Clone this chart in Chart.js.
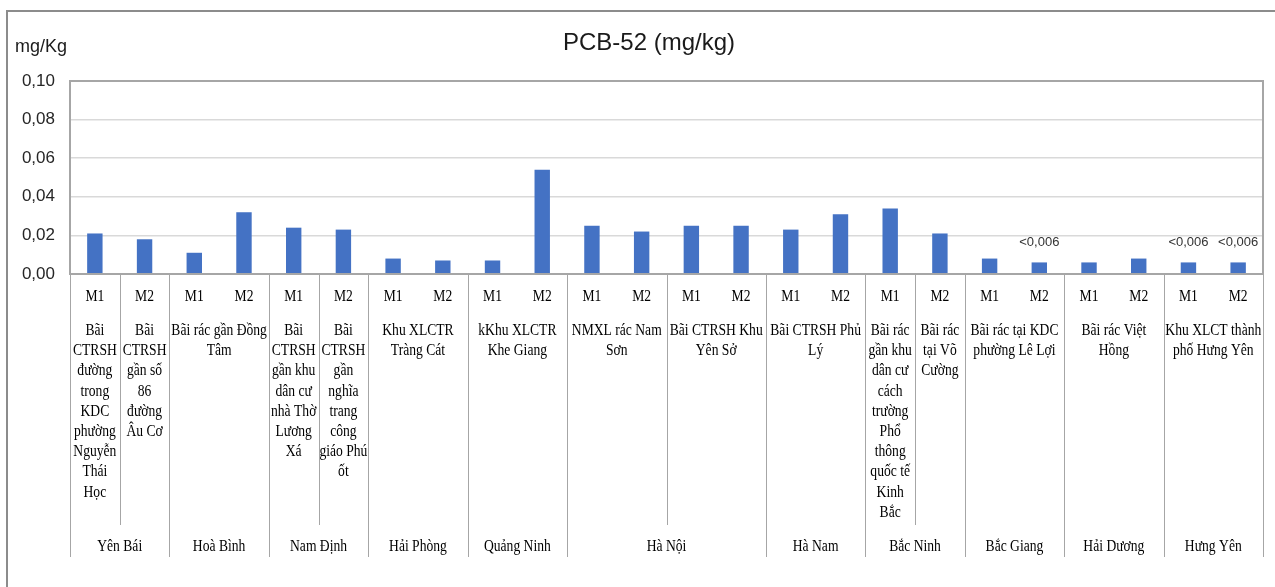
<!DOCTYPE html>
<html lang="vi">
<head>
<meta charset="utf-8">
<title>PCB-52 (mg/kg)</title>
<script src="https://cdn.jsdelivr.net/npm/chart.js@4.4.0/dist/chart.umd.min.js"></script>
<style>
  html, body { margin: 0; padding: 0; background: #fff; }
  #wrap { width: 1275px; height: 587px; position: relative; }
</style>
</head>
<body>
<div id="wrap"><canvas id="pcbChart"></canvas></div>
<script>
// Du lieu PCB-52 theo tung mau
const sampleLabels = ["M1","M2","M1","M2","M1","M2","M1","M2","M1","M2","M1","M2",
                      "M1","M2","M1","M2","M1","M2","M1","M2","M1","M2","M1","M2"];
const pcb52 = [0.021, 0.018, 0.011, 0.032, 0.024, 0.023, 0.008, 0.007, 0.007, 0.054, 0.025, 0.022,
               0.025, 0.025, 0.023, 0.031, 0.034, 0.021, 0.008, 0.006, 0.006, 0.008, 0.006, 0.006];
const valueNotes = ["","","","","","","","","","","","",
                    "","","","","","","","<0,006","","","<0,006","<0,006"];
const yTicks = [0, 0.02, 0.04, 0.06, 0.08, 0.10];

// Ten bai rac (moi dong la mot dong chu) va so mau cua tung bai
const siteNames = [
  ["Bãi","CTRSH","đường","trong","KDC","phường","Nguyễn","Thái","Học"],
  ["Bãi","CTRSH","gần số","86","đường","Âu Cơ"],
  ["Bãi rác gần Đồng","Tâm"],
  ["Bãi","CTRSH","gần khu","dân cư","nhà Thờ","Lương","Xá"],
  ["Bãi","CTRSH","gần","nghĩa","trang","công","giáo Phú","ốt"],
  ["Khu XLCTR","Tràng Cát"],
  ["kKhu XLCTR","Khe Giang"],
  ["NMXL rác Nam","Sơn"],
  ["Bãi CTRSH Khu","Yên Sở"],
  ["Bãi CTRSH Phủ","Lý"],
  ["Bãi rác","gần khu","dân cư","cách","trường","Phổ","thông","quốc tế","Kinh","Bắc"],
  ["Bãi rác","tại Võ","Cường"],
  ["Bãi rác tại KDC","phường Lê Lợi"],
  ["Bãi rác Việt","Hồng"],
  ["Khu XLCT thành","phố Hưng Yên"]
];
const siteSpans = [1, 1, 2, 1, 1, 2, 2, 2, 2, 2, 1, 1, 2, 2, 2];

const provinceNames = ["Yên Bái","Hoà Bình","Nam Định","Hải Phòng","Quảng Ninh","Hà Nội",
                       "Hà Nam","Bắc Ninh","Bắc Giang","Hải Dương","Hưng Yên"];
const provinceSpans = [2, 2, 2, 2, 2, 4, 2, 2, 2, 2, 2];

const serifFont = '16px "Liberation Serif", "Times New Roman", serif';
const squeeze = 0.85;

function squeezeText(ctx, text, x, y) {
  ctx.save();
  ctx.translate(x, y);
  ctx.scale(squeeze, 1);
  ctx.fillText(text, 0, 0);
  ctx.restore();
}

// ve khung, tieu de va truc danh muc nhieu cap
const decorPlugin = {
  id: "decor",
  afterDraw(chart) {
    const ctx = chart.ctx;
    const area = chart.chartArea;
    const xs = chart.scales.x;
    const n = sampleLabels.length;
    const half = (xs.getPixelForValue(1) - xs.getPixelForValue(0)) / 2;
    const edge = i => i < n ? xs.getPixelForValue(i) - half : xs.getPixelForValue(n - 1) + half;
    const px = v => Math.round(v) + 0.5;

    ctx.save();

    // khung ngoai
    ctx.strokeStyle = "#8c8c8c";
    ctx.lineWidth = 2;
    ctx.beginPath();
    ctx.moveTo(7, 587);
    ctx.lineTo(7, 11);
    ctx.lineTo(1275, 11);
    ctx.stroke();

    // khung vung ve
    ctx.strokeStyle = "#a6a6a6";
    ctx.lineWidth = 2;
    ctx.strokeRect(area.left, area.top, area.right - area.left, area.bottom - area.top);

    // tieu de
    ctx.fillStyle = "#1a1a1a";
    ctx.font = '24px "Liberation Sans", Arial, sans-serif';
    ctx.textAlign = "center";
    ctx.textBaseline = "alphabetic";
    ctx.fillText("PCB-52 (mg/kg)", 649, 50);

    ctx.textAlign = "left";
    ctx.font = '18px "Liberation Sans", Arial, sans-serif';
    ctx.fillText("mg/Kg", 15, 52);

    // nhan gia tri
    const meta = chart.getDatasetMeta(0);
    ctx.fillStyle = "#333";
    ctx.font = '13px "Liberation Sans", Arial, sans-serif';
    ctx.textAlign = "center";
    meta.data.forEach((bar, i) => {
      if (valueNotes[i]) ctx.fillText(valueNotes[i], bar.x, bar.y - 16);
    });

    // duong phan cach
    ctx.strokeStyle = "#a6a6a6";
    ctx.lineWidth = 1;
    let start = 0;
    siteSpans.forEach(span => {
      ctx.beginPath();
      ctx.moveTo(px(edge(start)), area.bottom);
      ctx.lineTo(px(edge(start)), 525);
      ctx.stroke();
      start += span;
    });
    start = 0;
    provinceSpans.concat([0]).forEach(span => {
      ctx.beginPath();
      ctx.moveTo(px(edge(start)), area.bottom);
      ctx.lineTo(px(edge(start)), 557);
      ctx.stroke();
      start += span;
    });

    // nhan M1 / M2
    ctx.fillStyle = "#000";
    ctx.font = serifFont;
    ctx.textAlign = "center";
    sampleLabels.forEach((lb, i) => squeezeText(ctx, lb, xs.getPixelForValue(i), 301));

    // ten bai rac
    start = 0;
    siteNames.forEach((lines, k) => {
      const cx = (edge(start) + edge(start + siteSpans[k])) / 2;
      lines.forEach((ln, j) => squeezeText(ctx, ln, cx, 335 + j * 20.2));
      start += siteSpans[k];
    });

    // ten tinh
    start = 0;
    provinceNames.forEach((name, k) => {
      const cx = (edge(start) + edge(start + provinceSpans[k])) / 2;
      squeezeText(ctx, name, cx, 551);
      start += provinceSpans[k];
    });

    ctx.restore();
  }
};

new Chart(document.getElementById("pcbChart"), {
  type: "bar",
  data: {
    labels: sampleLabels,
    datasets: [{
      label: "PCB-52",
      data: pcb52,
      backgroundColor: "#4472c4",
      barPercentage: 0.31,
      categoryPercentage: 1
    }]
  },
  options: {
    responsive: true,
    maintainAspectRatio: false,
    animation: false,
    layout: { padding: { left: 7, top: 81, right: 12, bottom: 0 } },
    plugins: {
      legend: { display: false },
      tooltip: { enabled: false }
    },
    scales: {
      x: {
        grid: { display: false },
        border: { display: false },
        ticks: { display: false },
        afterFit(scale) { scale.height = 313; }
      },
      y: {
        min: 0,
        max: 0.1,
        afterBuildTicks(scale) { scale.ticks = yTicks.map(v => ({ value: v })); },
        afterFit(scale) { scale.width = 63; },
        grid: { color: "#d9d9d9", lineWidth: 1.5, drawTicks: false },
        border: { display: false },
        ticks: {
          padding: 15,
          color: "#262626",
          font: { family: '"Liberation Sans", Arial, sans-serif', size: 17 },
          callback: v => v.toFixed(2).replace(".", ",")
        }
      }
    }
  },
  plugins: [decorPlugin]
});
</script>
</body>
</html>
